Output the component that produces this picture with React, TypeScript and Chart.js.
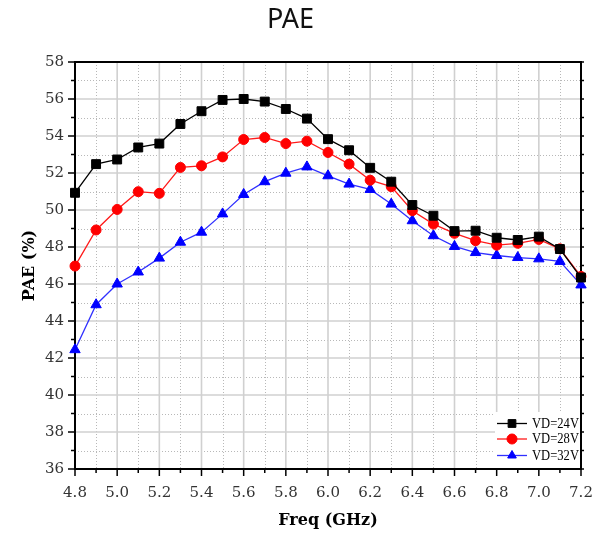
import React, { useEffect, useRef } from 'react';
import { Chart, registerables } from 'chart.js';

Chart.register(...registerables);

const freq = [4.8, 4.9, 5.0, 5.1, 5.2, 5.3, 5.4, 5.5, 5.6, 5.7, 5.8, 5.9, 6.0, 6.1, 6.2, 6.3, 6.4, 6.5, 6.6, 6.7, 6.8, 6.9, 7.0, 7.1, 7.2];
const pae24 = [50.93, 52.48, 52.73, 53.38, 53.59, 54.65, 55.34, 55.95, 56.0, 55.86, 55.46, 54.94, 53.83, 53.23, 52.28, 51.53, 50.27, 49.69, 48.86, 48.88, 48.5, 48.38, 48.56, 47.89, 46.35];
const pae28 = [46.97, 48.92, 50.03, 50.99, 50.9, 52.3, 52.39, 52.87, 53.81, 53.92, 53.59, 53.72, 53.11, 52.48, 51.61, 51.26, 49.96, 49.24, 48.74, 48.34, 48.1, 48.2, 48.41, 47.9, 46.41];
const pae32 = [42.45, 44.88, 46.0, 46.65, 47.4, 48.26, 48.8, 49.79, 50.84, 51.53, 51.99, 52.33, 51.85, 51.4, 51.11, 50.32, 49.42, 48.61, 48.03, 47.7, 47.54, 47.43, 47.36, 47.22, 45.95];
const seriesLabels = ['VD=24V', 'VD=28V', 'VD=32V'];
const seriesColors = ['#000000', '#ff0000', '#0000ff'];
const lineColors = ['#000000', '#ff1a1a', '#3030ff'];
const pointStyles = ['rect', 'circle', 'triangle'];
const pointRadii = [6.3, 5, 6];

const X_MIN = 4.8;
const X_MAX = 7.2;
const Y_MIN = 36;
const Y_MAX = 58;

const serif = "'DejaVu Serif', 'Liberation Serif', serif";

function drawMarker(ctx: CanvasRenderingContext2D, style: string, x: number, y: number, r: number) {
  ctx.beginPath();
  if (style === 'rect') {
    const s = r * Math.SQRT1_2;
    ctx.rect(x - s, y - s, 2 * s, 2 * s);
  } else if (style === 'circle') {
    ctx.arc(x, y, r, 0, Math.PI * 2);
  } else {
    ctx.moveTo(x, y - r);
    ctx.lineTo(x + r * Math.sin(Math.PI / 3), y + r / 2);
    ctx.lineTo(x - r * Math.sin(Math.PI / 3), y + r / 2);
    ctx.closePath();
  }
  ctx.fill();
  ctx.stroke();
}

const gridPlugin = {
  id: 'customGrid',
  beforeDatasetsDraw(chart: any) {
    const { ctx, chartArea } = chart;
    const { left, right, top, bottom } = chartArea;
    const xs = chart.scales.x;
    const ys = chart.scales.y;
    ctx.save();
    ctx.strokeStyle = '#b8b8b8';
    ctx.lineWidth = 1;
    ctx.setLineDash([1, 2]);
    xs.ticks.forEach((t: any) => {
      const k = Math.round(t.value * 10);
      if (k % 2 !== 0) {
        const px = Math.round(xs.getPixelForValue(t.value)) + 0.5;
        ctx.beginPath();
        ctx.moveTo(px, top);
        ctx.lineTo(px, bottom);
        ctx.stroke();
      }
    });
    ys.ticks.forEach((t: any) => {
      const v = Math.round(t.value);
      if (v % 2 !== 0) {
        const py = Math.round(ys.getPixelForValue(t.value)) + 0.5;
        ctx.beginPath();
        ctx.moveTo(left, py);
        ctx.lineTo(right, py);
        ctx.stroke();
      }
    });
    ctx.setLineDash([]);
    ctx.strokeStyle = '#d0d0d0';
    ctx.lineWidth = 1.6;
    xs.ticks.forEach((t: any) => {
      const k = Math.round(t.value * 10);
      if (k % 2 === 0) {
        const px = xs.getPixelForValue(t.value);
        ctx.beginPath();
        ctx.moveTo(px, top);
        ctx.lineTo(px, bottom);
        ctx.stroke();
      }
    });
    ys.ticks.forEach((t: any) => {
      const v = Math.round(t.value);
      if (v % 2 === 0) {
        const py = ys.getPixelForValue(t.value);
        ctx.beginPath();
        ctx.moveTo(left, py);
        ctx.lineTo(right, py);
        ctx.stroke();
      }
    });
    ctx.strokeStyle = '#000';
    ctx.lineWidth = 1.5;
    xs.ticks.forEach((t: any) => {
      const k = Math.round(t.value * 10);
      const len = k % 2 === 0 ? 7 : 4;
      const px = xs.getPixelForValue(t.value);
      ctx.beginPath();
      ctx.moveTo(px, bottom);
      ctx.lineTo(px, bottom + len);
      ctx.stroke();
    });
    ys.ticks.forEach((t: any) => {
      const v = Math.round(t.value);
      const len = v % 2 === 0 ? 7 : 4;
      const py = ys.getPixelForValue(t.value);
      ctx.beginPath();
      ctx.moveTo(left, py);
      ctx.lineTo(left - len, py);
      ctx.stroke();
      ctx.beginPath();
      ctx.moveTo(right, py);
      ctx.lineTo(right + 3, py);
      ctx.stroke();
    });
    ctx.lineWidth = 2;
    ctx.strokeRect(left, top, right - left, bottom - top);
    ctx.restore();
  },
};

const legendPlugin = {
  id: 'insideLegend',
  afterDatasetsDraw(chart: any) {
    const { ctx, chartArea } = chart;
    const { right, bottom } = chartArea;
    ctx.save();
    const boxL = right - 86;
    const boxT = bottom - 57;
    ctx.fillStyle = '#ffffff';
    ctx.fillRect(boxL, boxT, right - 1 - boxL, bottom - 1 - boxT);
    const rowY = [bottom - 45.5, bottom - 30, bottom - 13.5];
    chart.data.datasets.forEach((ds: any, i: number) => {
      const y = rowY[i];
      const x0 = boxL + 2;
      const x1 = boxL + 32;
      ctx.strokeStyle = ds.borderColor;
      ctx.lineWidth = 1.3;
      ctx.beginPath();
      ctx.moveTo(x0, y);
      ctx.lineTo(x1, y);
      ctx.stroke();
      ctx.fillStyle = ds.pointBackgroundColor;
      ctx.strokeStyle = ds.pointBorderColor;
      ctx.lineWidth = 1;
      drawMarker(ctx, ds.pointStyle, (x0 + x1) / 2, y, i === 0 ? 5.5 : 5);
      ctx.fillStyle = '#000';
      ctx.font = `15px 'Liberation Serif', serif`;
      ctx.textBaseline = 'middle';
      ctx.textAlign = 'left';
      ctx.fillText(ds.label, x1 + 5, y + 0.5, 47);
    });
    ctx.restore();
  },
};

const seriesValues = [pae24, pae28, pae32];

export default function App() {
  const canvasRef = useRef<HTMLCanvasElement | null>(null);

  useEffect(() => {
    const canvas = canvasRef.current;
    if (!canvas) return;
    const datasets = seriesValues.map((vals, i) => ({
      label: seriesLabels[i],
      data: freq.map((f, j) => ({ x: f, y: vals[j] })),
      borderColor: lineColors[i],
      backgroundColor: seriesColors[i],
      pointBackgroundColor: seriesColors[i],
      pointBorderColor: seriesColors[i],
      pointStyle: pointStyles[i],
      pointRadius: pointRadii[i],
      pointBorderWidth: 1,
      borderWidth: 1.3,
      tension: 0,
      clip: false as any,
    }));
    const chart = new Chart(canvas, {
      type: 'line',
      data: { datasets },
      plugins: [gridPlugin, legendPlugin],
      options: {
        animation: false,
        responsive: false,
        maintainAspectRatio: false,
        layout: { padding: { left: 0, right: 22, top: 0, bottom: 0 } },
        plugins: {
          legend: { display: false },
          tooltip: { enabled: false },
          title: {
            display: true,
            text: 'PAE',
            color: '#111',
            font: { family: "'Noto Sans', sans-serif", size: 27, weight: 'normal' as any, lineHeight: 1.2 },
            padding: { top: 4, bottom: 25.6 },
          },
        },
        scales: {
          x: {
            type: 'linear',
            min: X_MIN,
            max: X_MAX,
            grid: { display: false, drawTicks: true, tickLength: 8 },
            border: { display: false },
            ticks: {
              stepSize: 0.1,
              autoSkip: false,
              maxRotation: 0,
              padding: 7,
              color: '#333',
              font: { family: serif, size: 15 },
              callback: (v: any) => {
                const k = Math.round(Number(v) * 10);
                return k % 2 === 0 ? (k / 10).toFixed(1) : '';
              },
            },
            title: {
              display: true,
              text: 'Freq (GHz)',
              color: '#000',
              font: { family: serif, size: 16, weight: 'bold' as any, lineHeight: 1.2 },
              padding: { top: 0, bottom: 3 },
            },
            afterFit: (s: any) => {
              s.height = 64;
            },
          },
          y: {
            type: 'linear',
            min: Y_MIN,
            max: Y_MAX,
            grid: { display: false, drawTicks: true, tickLength: 8 },
            border: { display: false },
            ticks: {
              stepSize: 1,
              autoSkip: false,
              padding: 3,
              color: '#333',
              font: { family: serif, size: 15 },
              callback: (v: any) => {
                const n = Math.round(Number(v));
                return n % 2 === 0 ? String(n) : '';
              },
            },
            title: {
              display: true,
              text: 'PAE (%)',
              color: '#000',
              font: { family: serif, size: 16, weight: 'bold' as any, lineHeight: 1.2 },
              padding: { top: 20, bottom: 0 },
            },
            afterFit: (s: any) => {
              s.width = 75;
            },
          },
        },
      },
    });
    return () => chart.destroy();
  }, []);

  return (
    <div style={{ position: 'fixed', left: 0, top: 0, width: 603, height: 533, background: '#fff' }}>
      <canvas ref={canvasRef} width={603} height={533} style={{ display: 'block' }} />
    </div>
  );
}
